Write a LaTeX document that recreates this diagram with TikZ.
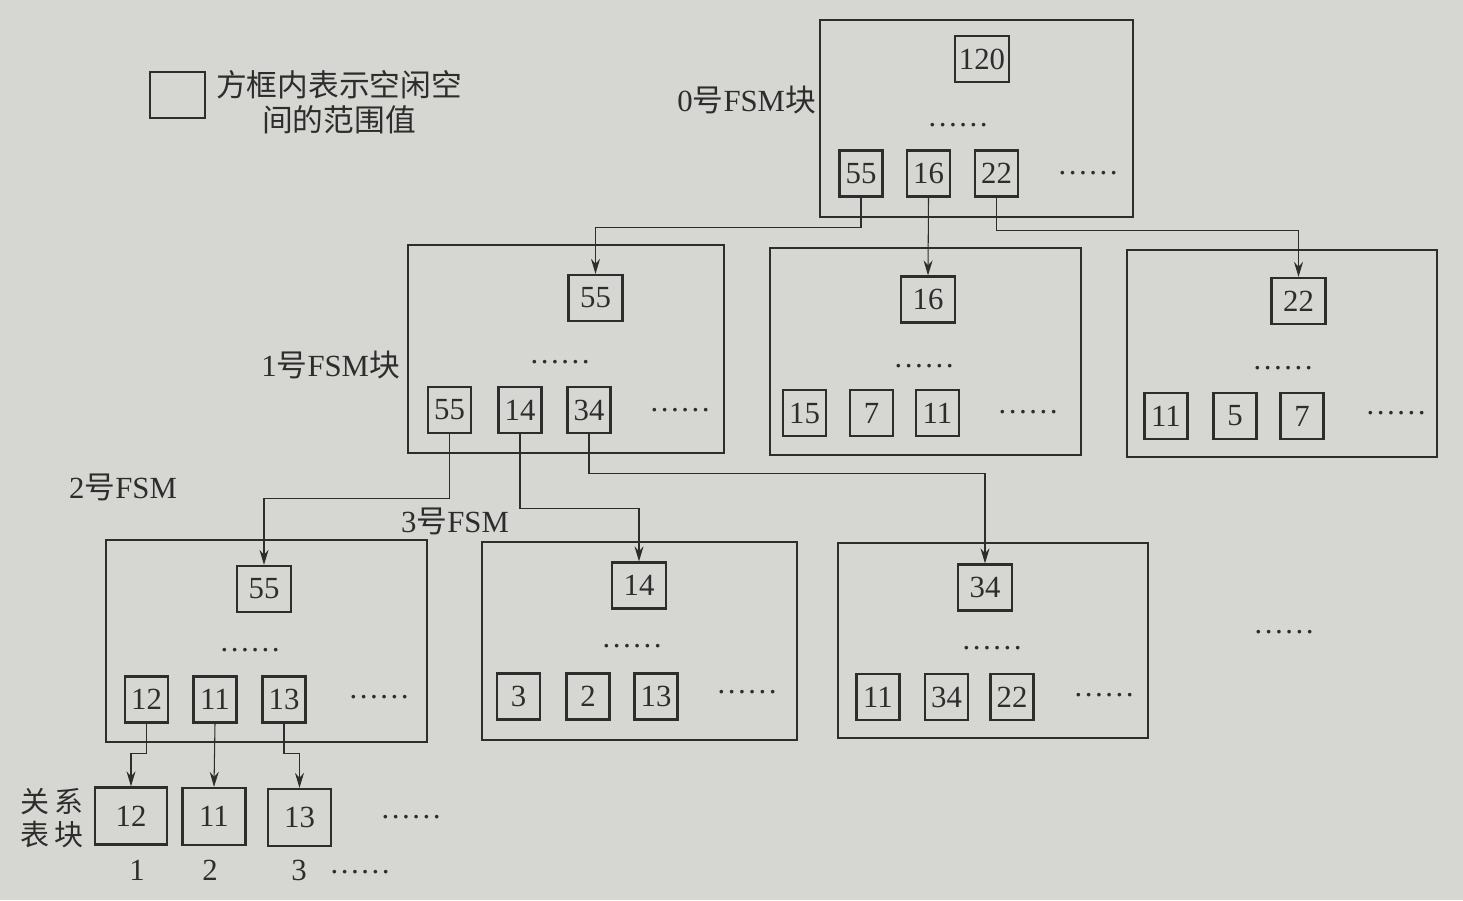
\documentclass[tikz,border=0pt]{standalone}
\usepackage{fontspec}
\setmainfont{Liberation Serif}
\newfontfamily\cjk{Noto Sans CJK SC}
\usetikzlibrary{arrows.meta}

\definecolor{paper}{RGB}{214,214,211}
\definecolor{ink}{RGB}{45,45,45}
\newcommand{\zh}[1]{{\cjk #1}}
\newcommand{\dotrow}{\ldots\ldots}

\begin{document}
\begin{tikzpicture}[x=0.02cm,y=-0.02cm,
  font=\fontsize{17.5}{21}\selectfont, text=ink,
  blk/.style={draw=ink,line width=0.6pt},
  val/.style={draw=ink,line width=1.3pt,inner sep=0pt,
    minimum width=0.86cm,minimum height=0.92cm},
  topval/.style={val,minimum width=1.08cm},
  relval/.style={val,minimum width=1.26cm,minimum height=1.14cm},
  arr/.style={draw=ink,line width=0.6pt,-{Stealth[length=3mm,width=1.8mm]}},
  lnk/.style={draw=ink,line width=0.6pt}]

\fill[paper] (0,0) rectangle (1463,900);

% legend
\node[draw=ink,line width=1.3pt,minimum width=1.1cm,minimum height=0.92cm] (legbox) at (177.5,95) {};
\node[align=center,font=\cjk\fontsize{17.5}{20}\selectfont] (legtxt) at (339,102) {方框内表示空闲空\\间的范围值};

% 0号FSM块
\draw[blk] (820,20) rectangle (1133,217);
\node[anchor=east] (lab0) at (822,100) {0\zh{号}FSM\zh{块}};
\node[topval] (f0top) at (982,59) {120};
\node (d0a) at (958,125) {\dotrow};
\node[val] (f0a) at (861,173.5) {55};
\node[val] (f0b) at (928.5,173.5) {16};
\node[val] (f0c) at (996.5,173.5) {22};
\node (d0b) at (1088,173) {\dotrow};

% 1号FSM块
\draw[blk] (408,245) rectangle (724,453);
\node[anchor=east] (lab1) at (406,365) {1\zh{号}FSM\zh{块}};
\node[topval] (f1top) at (595.5,298) {55};
\node (d1a) at (560,362) {\dotrow};
\node[val] (f1a) at (449.5,410) {55};
\node[val] (f1b) at (520,410) {14};
\node[val] (f1c) at (589,410) {34};
\node (d1b) at (680,410) {\dotrow};

% block 16
\draw[blk] (770,248) rectangle (1081,455);
\node[topval] (f16top) at (928,299.5) {16};
\node (d16a) at (924,366) {\dotrow};
\node[val] (f16a) at (804.5,413) {15};
\node[val] (f16b) at (871.5,413) {7};
\node[val] (f16c) at (937.5,413) {11};
\node (d16b) at (1028,412) {\dotrow};

% block 22
\draw[blk] (1127,250) rectangle (1437,457);
\node[topval] (f22top) at (1298.5,301) {22};
\node (d22a) at (1283,368) {\dotrow};
\node[val] (f22a) at (1166,416) {11};
\node[val] (f22b) at (1235,416) {5};
\node[val] (f22c) at (1302,416) {7};
\node (d22b) at (1396,413) {\dotrow};

% 2号FSM
\draw[blk] (106,540) rectangle (427,742);
\node[anchor=west] (lab2) at (63,487) {2\zh{号}FSM};
\node[topval] (f2top) at (264,589) {55};
\node (d2a) at (250,650) {\dotrow};
\node[val] (f2a) at (146.5,699.5) {12};
\node[val] (f2b) at (215,699.5) {11};
\node[val] (f2c) at (284,699.5) {13};
\node (d2b) at (379,697) {\dotrow};

% 3号FSM
\draw[blk] (482,542) rectangle (797,740);
\node[anchor=west] (lab3) at (395,521) {3\zh{号}FSM};
\node[topval] (f3top) at (639,585.5) {14};
\node (d3a) at (632,646) {\dotrow};
\node[val] (f3a) at (518.5,696.5) {3};
\node[val] (f3b) at (588,696.5) {2};
\node[val] (f3c) at (656,696.5) {13};
\node (d3b) at (747,692) {\dotrow};

% block 34
\draw[blk] (838,543) rectangle (1148,738);
\node[topval] (f4top) at (985,587.5) {34};
\node (d4a) at (992,648) {\dotrow};
\node[val] (f4a) at (878,697) {11};
\node[val] (f4b) at (946.5,697) {34};
\node[val] (f4c) at (1012,697) {22};
\node (d4b) at (1104,695) {\dotrow};

\node (dmore) at (1284,632) {\dotrow};

% 关系表块
\node[align=center,font=\cjk\fontsize{16.5}{19}\selectfont] (labrel) at (52,818) {关\,系\\表\,块};
\node[relval,minimum width=1.44cm] (r1) at (131,816) {12};
\node[relval] (r2) at (214,816.5) {11};
\node[relval] (r3) at (299.5,817.5) {13};
\node (drel) at (411,817) {\dotrow};
\node (n1) at (137,870) {1};
\node (n2) at (210,870) {2};
\node (n3) at (299,870) {3};
\node (dnum) at (360,872) {\dotrow};

% links
\draw[arr] (f0a.south) -- ++(0,30) -| (f1top.north);
\draw[arr] (f0b.south) -- (f16top.north);
\draw[arr] (f0c.south) -- ++(0,33) -| (f22top.north);
\draw[arr] (f1a.south) -- ++(0,64) -| (f2top.north);
\draw[arr] (f1b.south) -- ++(0,74) -| (f3top.north);
\draw[arr] (f1c.south) -- ++(0,39) -| (f4top.north);
\draw[arr] (f2a.south) -- ++(0,30) -| (r1.north);
\draw[arr] (f2b.south) -- (r2.north);
\draw[arr] (f2c.south) -- ++(0,30) -| (r3.north);

\end{tikzpicture}
\end{document}
